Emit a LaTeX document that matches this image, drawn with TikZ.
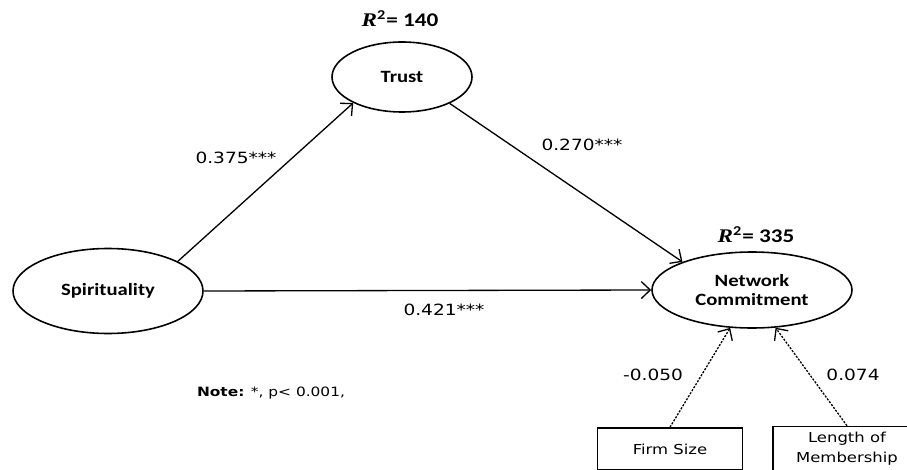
\documentclass[tikz,border=0pt]{standalone}
\usepackage{fontspec}
\setmainfont[FakeStretch=1.2]{DejaVu Sans}
\newfontfamily\calibri[FakeStretch=1.2]{Carlito}
\newfontfamily\timesfont[FakeStretch=1.2]{Liberation Serif}
\usetikzlibrary{shapes.geometric,arrows.meta}

\newcommand{\rsquare}[1]{{\timesfont\bfseries\itshape R}\textsuperscript{\calibri\bfseries 2}{\calibri\bfseries= #1}}

\begin{document}
\begin{tikzpicture}[line width=0.75pt,>={Straight Barb[length=1.8mm,width=3.4mm]}]

      \useasboundingbox (0,0) rectangle (18.14,9.38);

      \begin{scope}[every node/.style={ellipse,draw,line width=0.9pt,inner sep=0pt,align=center,
          font=\calibri\bfseries\fontsize{9.8}{11.3}\selectfont}]
        \node[minimum width=2.8cm,minimum height=1.4cm]  (trust) at (8.04,7.84)  {Trust};
        \node[minimum width=3.8cm,minimum height=1.7cm]  (spir)  at (2.16,3.56)  {Spirituality};
        \node[minimum width=4cm,minimum height=1.52cm]   (nc)    at (15.04,3.58) {Network\\Commitment};
      \end{scope}

      \begin{scope}[every node/.style={rectangle,draw,line width=0.9pt,align=center,minimum height=0.84cm,
          font=\fontsize{7.8}{11.3}\selectfont}]
        \node[minimum width=2.9cm]  (firm)   at (13.4,0.4)  {Firm Size};
        \node[minimum width=2.96cm] (length) at (16.94,0.4) {Length of\\Membership};
      \end{scope}

      \node (r2trust) at (8.0,9.0)   {\fontsize{11}{13}\selectfont\rsquare{140}};
      \node (r2nc)    at (15.12,4.68) {\fontsize{11}{13}\selectfont\rsquare{335}};

      \begin{scope}[every node/.style={font=\fontsize{8.8}{10}\selectfont}]
        \node (b1) at (4.72,6.22)  {0.375***};
        \node (b2) at (11.64,6.48) {0.270***};
        \node (b3) at (8.88,3.18)  {0.421***};
        \node (c1) at (13.06,1.88) {-0.050};
        \node (c2) at (17.06,1.88) {0.074};
      \end{scope}

      \node (note) at (5.42,1.52) {\fontsize{7.3}{9}\selectfont\textbf{Note:} *, p< 0.001,};

      \draw[->] (spir.23)  -- (trust.208);
      \draw[->] (trust.331) -- (nc.158);
      \draw[->] (spir.east) -- (nc.west);

      \begin{scope}[every path/.style={dash pattern=on 1.2pt off 0.8pt}]
        \draw[->] (firm.north)   -- (nc.240);
        \draw[->] (length.north) -- (nc.302);
      \end{scope}

    \end{tikzpicture}
\end{document}
